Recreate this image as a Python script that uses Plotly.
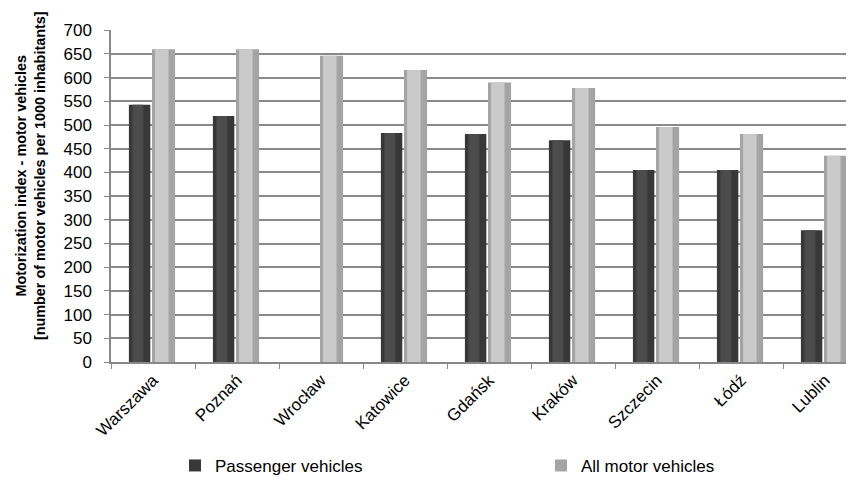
import plotly.graph_objects as go

cities = ["Warszawa", "Poznań", "Wrocław", "Katowice", "Gdańsk", "Kraków", "Szczecin", "Łódź", "Lublin"]
passenger = [543, 519, None, 483, 481, 468, 405, 405, 278]
all_motor = [660, 660, 646, 616, 590, 578, 496, 481, 435]
y_ticks = list(range(0, 701, 50))

FONT = "Liberation Sans, Arial, sans-serif"

fig = go.Figure()

# passenger vehicles: dark cylinder (base + highlight band)
fig.add_trace(go.Bar(x=cities, y=passenger, name="Passenger vehicles",
                     marker=dict(color="#383838", line=dict(width=0)),
                     width=0.255, offset=-0.287, showlegend=True))
fig.add_trace(go.Bar(x=cities, y=passenger, name="Passenger vehicles",
                     marker=dict(color="#4c4c4c", line=dict(width=0)),
                     width=0.13, offset=-0.245, showlegend=False, hoverinfo="skip"))
# all motor vehicles: light cylinder
fig.add_trace(go.Bar(x=cities, y=all_motor, name="All motor vehicles",
                     marker=dict(color="#a4a4a4", line=dict(width=0)),
                     width=0.275, offset=-0.012, showlegend=True))
fig.add_trace(go.Bar(x=cities, y=all_motor, name="All motor vehicles",
                     marker=dict(color="#cacaca", line=dict(width=0)),
                     width=0.16, offset=0.025, showlegend=False, hoverinfo="skip"))

fig.update_layout(
    width=846, height=475,
    margin=dict(l=103, r=0, t=22, b=121),
    paper_bgcolor="white", plot_bgcolor="white",
    barmode="overlay",
    font=dict(family=FONT, color="black", size=16),
    xaxis=dict(
        type="category", range=[-0.5, 8.345],
        tickangle=-45, tickson="boundaries", ticks="outside", ticklen=5,
        tickcolor="#888888", showline=True, linecolor="#888888", linewidth=1.5,
        showgrid=False, tickfont=dict(size=17, family=FONT),
    ),
    yaxis=dict(
        range=[0, 700.6], tickvals=y_ticks, ticks="outside", ticklen=5,
        tickcolor="#888888", showline=True, linecolor="#888888", linewidth=1.5,
        showgrid=True, gridcolor="#8a8a8a", gridwidth=1.5, zeroline=False,
        tickfont=dict(size=17, family=FONT), ticklabelstandoff=9,
    ),
    legend=dict(
        orientation="h", xref="container", yref="container",
        x=0.1974, y=0.036, xanchor="left", yanchor="middle",
        entrywidth=321, font=dict(size=17, family=FONT),
        bgcolor="rgba(0,0,0,0)",
    ),
    annotations=[dict(
        text="<b>Motorization index - motor vehicles<br>[number of motor vehicles per 1000 inhabitants]</b>",
        xref="paper", yref="paper", x=-0.109, y=0.560,
        xanchor="center", yanchor="middle", textangle=-90, showarrow=False,
        font=dict(size=14.4, family=FONT, color="black"),
    )],
)

fig.write_html("out.html")
